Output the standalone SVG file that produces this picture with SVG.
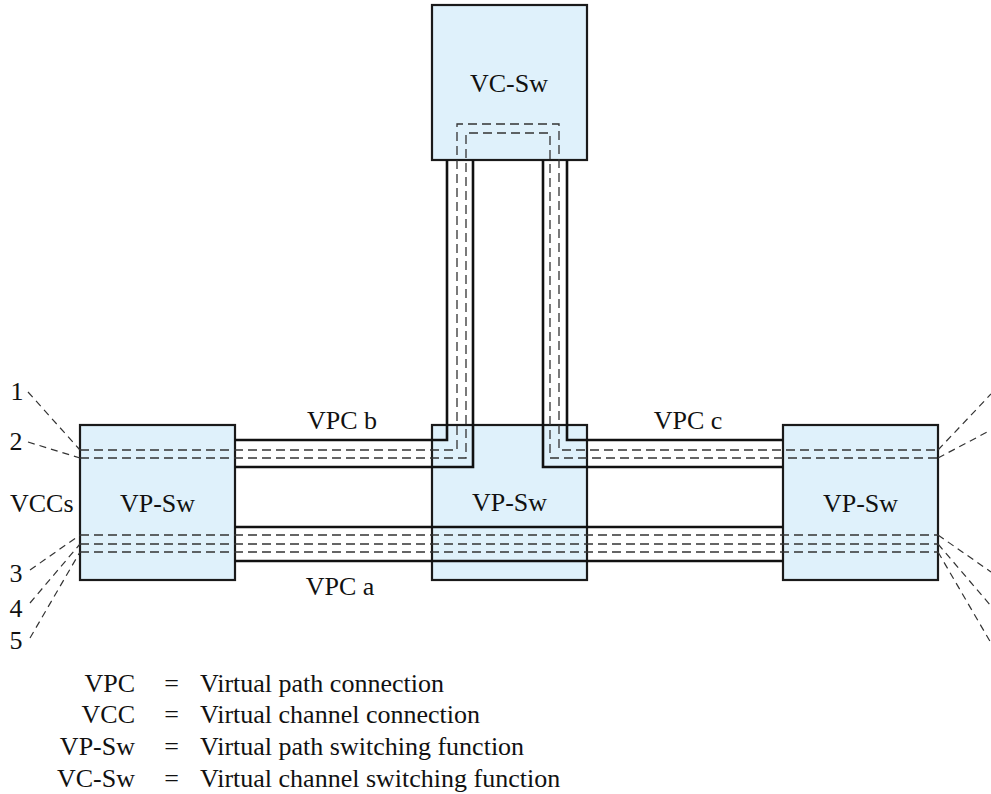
<svg xmlns="http://www.w3.org/2000/svg" width="991" height="794" viewBox="0 0 991 794">
<style>
.box{fill:#dff1fb;stroke:#1a1a1a;stroke-width:2.2}
.pipe{fill:none;stroke:#111;stroke-width:2.6}
.vcc{fill:none;stroke:#333;stroke-width:1.3;stroke-dasharray:9 5}
.lead{fill:none;stroke:#333;stroke-width:1.2;stroke-dasharray:7 5}
text{font-family:"Liberation Serif","Times New Roman",serif;font-size:26px;fill:#111}
.c{text-anchor:middle}
.e{text-anchor:end}
</style>
<rect width="991" height="794" fill="#fff"/>
<g id="vc-sw">
<rect class="box" x="432" y="5" width="155" height="155"/>
<text class="c" x="509" y="92">VC-Sw</text>
</g>
<g id="vp-sw-left">
<rect class="box" x="80" y="425" width="155" height="155"/>
<text class="c" x="157.5" y="512">VP-Sw</text>
</g>
<g id="vp-sw-mid">
<rect class="box" x="432" y="425" width="155" height="155"/>
<text class="c" x="509.5" y="511">VP-Sw</text>
</g>
<g id="vp-sw-right">
<rect class="box" x="783" y="425" width="155" height="155"/>
<text class="c" x="860.5" y="512">VP-Sw</text>
</g>
<g id="connectors">
<g id="vpcs">
<path class="pipe" d="M235,440 H447 V160"/>
<path class="pipe" d="M235,467 H473 V160"/>
<path class="pipe" d="M567,160 V440 H783"/>
<path class="pipe" d="M543,160 V467 H783"/>
<path class="pipe" d="M235,527 H783"/>
<path class="pipe" d="M235,561 H783"/>
</g>
<g id="vccs">
<path class="vcc" d="M80,450 H457 V124 H559 V450 H938"/>
<path class="vcc" d="M80,458 H466 V133 H550 V458 H938"/>
<path class="vcc" d="M80,535 H938"/>
<path class="vcc" d="M80,544 H938"/>
<path class="vcc" d="M80,552 H938"/>
</g>
<g id="leaders">
<path class="lead" d="M28,392 L80,450"/>
<path class="lead" d="M28,442 L80,458"/>
<path class="lead" d="M30,570 L80,535"/>
<path class="lead" d="M30,603 L80,544"/>
<path class="lead" d="M30,638 L80,552"/>
<path class="lead" d="M938,450 L991,394"/>
<path class="lead" d="M938,458 L991,430"/>
<path class="lead" d="M938,535 L991,572"/>
<path class="lead" d="M938,544 L991,606"/>
<path class="lead" d="M938,552 L991,643"/>
</g>
</g>
<g id="labels">
<text class="c" x="342" y="429">VPC b</text>
<text class="c" x="688" y="429">VPC c</text>
<text class="c" x="340" y="595">VPC a</text>
<text x="10" y="512">VCCs</text>
<text class="c" x="17" y="400">1</text>
<text class="c" x="16" y="450">2</text>
<text class="c" x="16" y="582">3</text>
<text class="c" x="16" y="617">4</text>
<text class="c" x="16" y="649">5</text>
</g>
<g id="legend">
<text class="e" x="135" y="692">VPC</text>
<text class="c" x="171.5" y="692">=</text>
<text x="200" y="692">Virtual path connection</text>
<text class="e" x="135" y="723">VCC</text>
<text class="c" x="171.5" y="723">=</text>
<text x="200" y="723">Virtual channel connection</text>
<text class="e" x="135" y="755">VP-Sw</text>
<text class="c" x="171.5" y="755">=</text>
<text x="200" y="755">Virtual path switching function</text>
<text class="e" x="135" y="787">VC-Sw</text>
<text class="c" x="171.5" y="787">=</text>
<text x="200" y="787">Virtual channel switching function</text>
</g>
</svg>
